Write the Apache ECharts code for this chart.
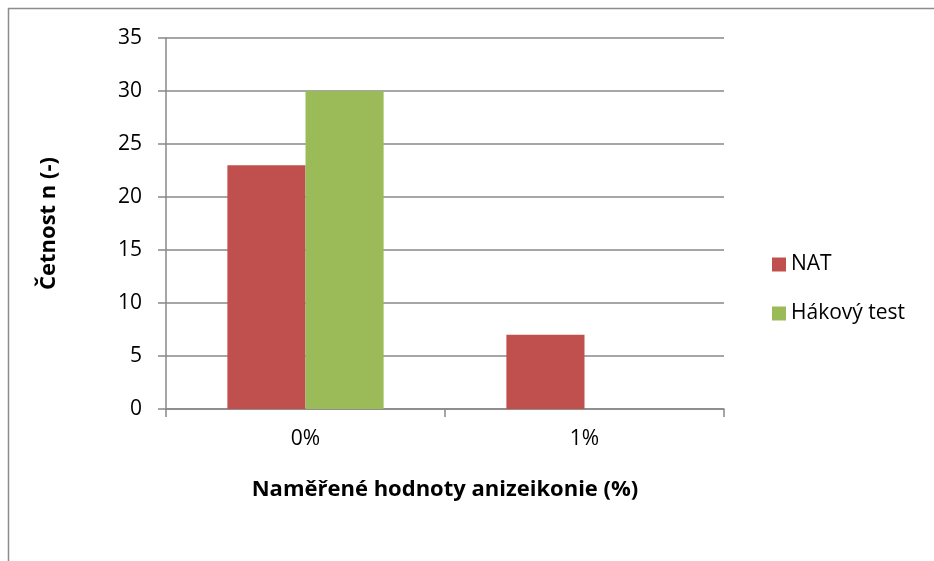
<!DOCTYPE html>
<html>
<head>
<meta charset="utf-8">
<script src="https://cdn.jsdelivr.net/npm/echarts@6/dist/echarts.min.js"></script>
<style>
  html, body { margin: 0; padding: 0; background: #fff; }
  #chart { width: 934px; height: 561px; }
</style>
</head>
<body>
<div id="chart"></div>
<script>
// data
var categories = ["0%", "1%"];
var natValues = [23, 7];
var hakValues = [30, 0];
var seriesNames = ["NAT", "Hákový test"];

var chart = echarts.init(document.getElementById("chart"));
var font = "'Open Sans', Lato, sans-serif";

chart.setOption({
  animation: false,
  textStyle: { fontFamily: font },
  // outer chart border (right/bottom run off the picture)
  graphic: [
    {
      type: "rect",
      shape: { x: 8.5, y: 8.5, width: 1000, height: 1000 },
      style: { fill: null, stroke: "#8c8c8c", lineWidth: 1.5 },
      silent: true,
    },
  ],
  grid: { left: 166, right: 210, top: 38, bottom: 152 },
  legend: {
    orient: "vertical",
    left: 767,
    top: 249,
    itemWidth: 14,
    itemHeight: 14,
    itemGap: 28,
    icon: "rect",
    textStyle: { fontSize: 21, color: "#000", fontFamily: font, padding: [0, 0, 0, 0] },
    data: seriesNames,
  },
  xAxis: {
    type: "category",
    data: categories,
    name: "Naměřené hodnoty anizeikonie (%)",
    nameLocation: "middle",
    nameGap: 70,
    nameTextStyle: { fontSize: 22, fontWeight: "bold", color: "#000", fontFamily: font },
    axisLine: { lineStyle: { color: "#888", width: 1.5 } },
    axisTick: { show: true, length: 8, lineStyle: { color: "#888", width: 1.5 } },
    axisLabel: { fontSize: 21, color: "#000", margin: 20, fontFamily: font },
  },
  yAxis: {
    type: "value",
    min: 0,
    max: 35,
    interval: 5,
    name: "Četnost n (-)",
    nameLocation: "middle",
    nameGap: 106,
    nameTextStyle: { fontSize: 22, fontWeight: "bold", color: "#000", fontFamily: font },
    axisLine: { show: true, lineStyle: { color: "#888", width: 1.5 } },
    axisTick: { show: true, length: 8, lineStyle: { color: "#888", width: 1.5 } },
    axisLabel: { fontSize: 21, color: "#000", margin: 24, fontFamily: font },
    splitLine: { lineStyle: { color: "#888", width: 1.5 } },
  },
  series: [
    {
      name: seriesNames[0],
      type: "bar",
      data: natValues,
      barGap: "0%",
      barCategoryGap: "44%",
      itemStyle: { color: "#C0504D" },
    },
    {
      name: seriesNames[1],
      type: "bar",
      data: hakValues,
      barGap: "0%",
      barCategoryGap: "44%",
      itemStyle: { color: "#9BBB59" },
    },
  ],
});
</script>
</body>
</html>
